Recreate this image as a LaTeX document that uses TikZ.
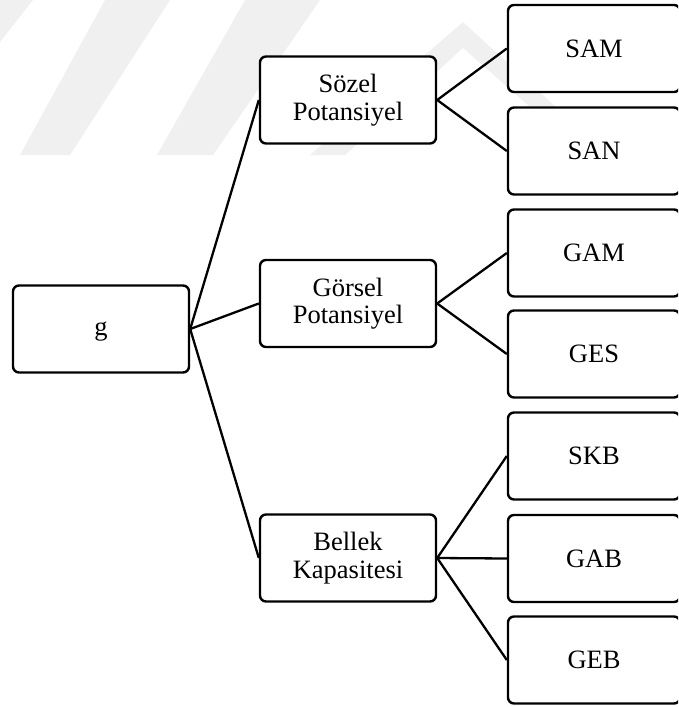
\documentclass[tikz,border=0pt]{standalone}
\usepackage{fontspec}
\setmainfont{Liberation Serif}
\begin{document}
\begin{tikzpicture}[x=1pt,y=-1pt,
  box/.style={draw, line width=2.4pt, rounded corners=6pt, fill=white, align=center,
    minimum width=176pt, minimum height=87pt, inner sep=0pt,
    font=\fontsize{26.5}{27.5}\selectfont},
  rbox/.style={box, minimum width=172pt},
  link/.style={line width=2.3pt},
  wm/.style={fill=black!6, draw=none}]
\useasboundingbox (0,0) rectangle (678,707);
\clip (0,0) rectangle (678,707);
% faint watermark
\fill[wm] (0,0) -- (33,0) -- (0,42) -- cycle;
\fill[wm] (105,0) -- (170,0) -- (70,155) -- (20,155) -- cycle;
\fill[wm] (245,0) -- (320,0) -- (213,155) -- (157,155) -- cycle;
\fill[wm] (463,22) -- (570,120) -- (545,120) -- (463,48) -- (345,155) -- (310,155) -- cycle;
% nodes
\node[box, text depth=0pt] (g) at (101,329) {g};
\node[box] (soz) at (348,100) {Sözel\\Potansiyel};
\node[box] (gor) at (348,303.5) {Görsel\\Potansiyel};
\node[box] (bel) at (348,558) {Bellek\\Kapasitesi};
\node[rbox] (sam) at (594,48.5) {SAM};
\node[rbox] (san) at (594,151) {SAN};
\node[rbox] (gam) at (594,253) {GAM};
\node[rbox] (ges) at (594,354) {GES};
\node[rbox] (skb) at (594,456) {SKB};
\node[rbox] (gab) at (594,558.5) {GAB};
\node[rbox] (geb) at (594,660) {GEB};
% connectors
\draw[link] (g.east) -- (soz.west);
\draw[link] (g.east) -- (gor.west);
\draw[link] (g.east) -- (bel.west);
\draw[link] (soz.east) -- (sam.west);
\draw[link] (soz.east) -- (san.west);
\draw[link] (gor.east) -- (gam.west);
\draw[link] (gor.east) -- (ges.west);
\draw[link] (bel.east) -- (skb.west);
\draw[link] (bel.east) -- (gab.west);
\draw[link] (bel.east) -- (geb.west);
\end{tikzpicture}
\end{document}
